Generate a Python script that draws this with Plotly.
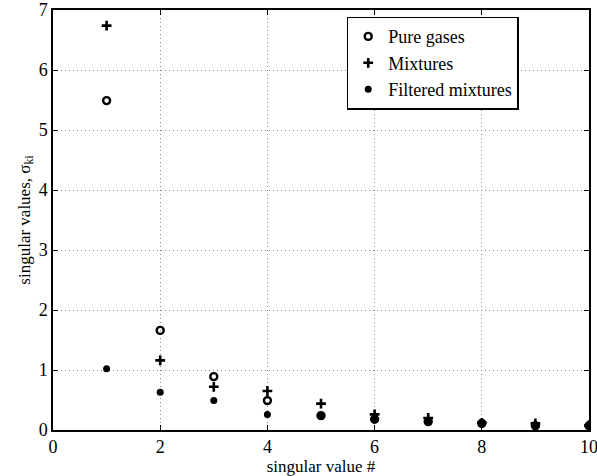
import plotly.graph_objects as go

idx = [1, 2, 3, 4, 5, 6, 7, 8, 9, 10]
pure_gases = [5.49, 1.66, 0.89, 0.49, 0.24, 0.18, 0.14, 0.11, 0.07, 0.07]
mixtures = [6.74, 1.16, 0.72, 0.65, 0.44, 0.26, 0.20, 0.12, 0.11, 0.08]
filtered = [1.02, 0.63, 0.49, 0.26, 0.24, 0.17, 0.13, 0.11, 0.07, 0.07]

x_ticks = [0, 2, 4, 6, 8, 10]
y_ticks = [0, 1, 2, 3, 4, 5, 6, 7]

font = "Liberation Serif"

fig = go.Figure()
fig.add_trace(go.Scatter(x=idx, y=pure_gases, mode="markers", name="Pure gases",
                         marker=dict(symbol="circle-open", size=7, color="black",
                                     line=dict(width=2.4, color="black"))))
fig.add_trace(go.Scatter(x=idx, y=mixtures, mode="markers", name="Mixtures",
                         marker=dict(symbol="cross-thin-open", size=7, color="black",
                                     line=dict(width=2.6, color="black"))))
fig.add_trace(go.Scatter(x=idx, y=filtered, mode="markers", name="Filtered mixtures",
                         marker=dict(symbol="circle", size=7, color="black")))

axis_common = dict(
    showgrid=True, gridcolor="#8a8a8a", griddash="1px,3px", gridwidth=1,
    zeroline=False, showline=True, linecolor="black", linewidth=1.5,
    mirror="allticks", ticks="inside", ticklen=5, tickcolor="black",
    tickfont=dict(family=font, size=18, color="black"),
    automargin=False,
)

fig.update_layout(
    width=597, height=476,
    margin=dict(l=53, r=8, t=10, b=46),
    paper_bgcolor="white", plot_bgcolor="white",
    font=dict(family=font, color="black"),
    xaxis=dict(range=[0, 10], tickvals=x_ticks, ticklabeloverflow="allow",
               title=dict(text="singular value #", font=dict(family=font, size=17), standoff=0),
               **axis_common),
    yaxis=dict(range=[0, 7], tickvals=y_ticks, ticklabeloverflow="allow",
               title=dict(text="singular values, σ<sub>ki</sub>", font=dict(family=font, size=17), standoff=4),
               **axis_common),
    legend=dict(x=0.548, y=0.984, xanchor="left", yanchor="top",
                bgcolor="white", bordercolor="black", borderwidth=1.5,
                font=dict(family=font, size=18, color="black"),
                tracegroupgap=0, itemwidth=30),
    showlegend=True,
)

fig.write_html("out.html", config={"displayModeBar": False},
               post_script="document.body.style.margin='0';")
